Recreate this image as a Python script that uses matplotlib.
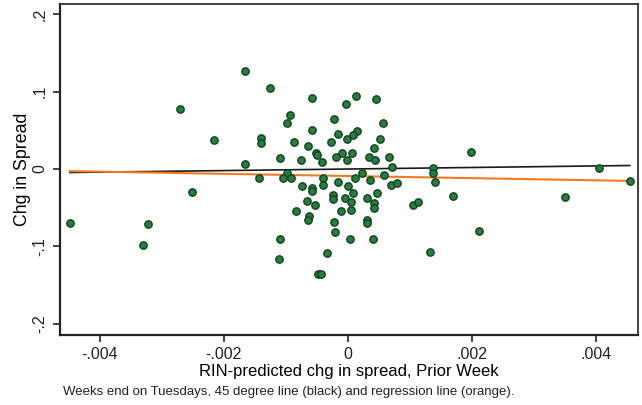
import numpy as np
import matplotlib

matplotlib.use("Agg")
import matplotlib.pyplot as plt

plt.rcParams["font.family"] = ["Liberation Sans", "DejaVu Sans"]

# weekly observations: RIN-predicted change (prior week) vs change in spread
pred_chg = [
    -0.00448, -0.00330, -0.00322, -0.00270, -0.00216, -0.00251, -0.00166, -0.00166,
    -0.00125, -0.00140, -0.00140, -0.00143, -0.00109, -0.00098, -0.00093, -0.00087,
    -0.00098, -0.00104, -0.00091, -0.00075, -0.00058, -0.00058, -0.00064, -0.00051,
    -0.00049, -0.00074, -0.00058, -0.00058, -0.00066, -0.00053, -0.00083, -0.00062,
    -0.00064, -0.00109, -0.00111, -0.00041, -0.00040, -0.00040, -0.00048, -0.00043,
    -0.00033, -0.00003, 0.00013, 0.00046, -0.00022, 0.00057, -0.00027, -0.00016,
    0.00015, 0.00009, -0.00001, 0.00052, 0.00042, -0.00019, -0.00009, 0.00007,
    -0.00001, 0.00034, 0.00044, 0.00067, 0.00071, -0.00016, 0.00000, 0.00012,
    0.00023, 0.00036, 0.00059, 0.00070, 0.00080, 0.00047, 0.00031, 0.00009,
    -0.00004, -0.00024, -0.00024, -0.00011, 0.00005, 0.00005, 0.00042, 0.00042,
    0.00031, 0.00031, -0.00022, -0.00021, 0.00004, 0.00041, 0.00138, 0.00138,
    0.00141, 0.00105, 0.00113, 0.00133, 0.00199, 0.00212, 0.00170, 0.00351,
    0.00406, 0.00455,
]
spread_chg = [
    -0.070, -0.098, -0.071, 0.078, 0.038, -0.030, 0.127, 0.006,
    0.105, 0.040, 0.034, -0.012, 0.014, 0.060, 0.070, 0.035,
    -0.005, -0.012, -0.012, 0.012, 0.092, 0.050, 0.030, 0.021,
    0.018, -0.022, -0.025, -0.028, -0.041, -0.047, -0.054, -0.061,
    -0.066, -0.091, -0.116, 0.009, -0.012, -0.021, -0.136, -0.136,
    -0.109, 0.084, 0.094, 0.091, 0.065, 0.060, 0.035, 0.045,
    0.049, 0.044, 0.039, 0.039, 0.027, 0.016, 0.021, 0.021,
    0.012, 0.016, 0.012, 0.016, 0.003, -0.017, -0.022, -0.012,
    -0.005, -0.014, -0.008, -0.021, -0.018, -0.031, -0.038, -0.031,
    -0.038, -0.034, -0.039, -0.054, -0.043, -0.053, -0.044, -0.050,
    -0.066, -0.070, -0.069, -0.081, -0.091, -0.091, 0.001, -0.005,
    -0.017, -0.047, -0.043, -0.107, 0.022, -0.080, -0.035, -0.036,
    0.001, -0.016,
]

# fitted regression line (intercept, slope)
reg_coef = (-0.0090, -1.40)

x_ticks = [-0.004, -0.002, 0, 0.002, 0.004]
x_ticklabels = ["-.004", "-.002", "0", ".002", ".004"]
y_ticks = [-0.2, -0.1, 0, 0.1, 0.2]
y_ticklabels = ["-.2", "-.1", "0", ".1", ".2"]

x = np.array(pred_chg)
y = np.array(spread_chg)

fig = plt.figure(figsize=(6.42, 4.05), dpi=100)
ax = fig.add_axes([0.0935, 0.173, 0.900, 0.817])

ax.scatter(x, y, s=28, c="#2b7a3f", edgecolors="#0f4420", linewidths=1.0, zorder=3)

xs = np.array([x.min(), x.max()])
ax.plot(xs, xs, color="#1a1a1a", lw=1.2, zorder=2)
ax.plot(xs, reg_coef[0] + reg_coef[1] * xs, color="#f07a22", lw=1.5, zorder=2)

ax.set_xlim(-0.00464, 0.00468)
ax.set_ylim(-0.2147, 0.2135)
ax.set_xticks(x_ticks)
ax.set_xticklabels(x_ticklabels)
ax.set_yticks(y_ticks)
ax.set_yticklabels(y_ticklabels, rotation=90, va="center")
ax.tick_params(axis="both", direction="out", length=5, width=1.2, colors="#222222",
               labelsize=11.5, pad=4)
for side in ["left", "bottom"]:
    ax.spines[side].set_linewidth(1.6)
    ax.spines[side].set_color("#222222")
for side in ["top", "right"]:
    ax.spines[side].set_linewidth(1.3)
    ax.spines[side].set_color("#333333")

ax.set_xlabel("RIN-predicted chg in spread, Prior Week", fontsize=12, labelpad=1)
ax.set_ylabel("Chg in Spread", fontsize=12.8, labelpad=1)

fig.text(0.098, 0.032, "Weeks end on Tuesdays, 45 degree line (black) and regression line (orange).",
         fontsize=9.5, ha="left", va="center", color="#222222")

fig.savefig("out.png", dpi=100)
